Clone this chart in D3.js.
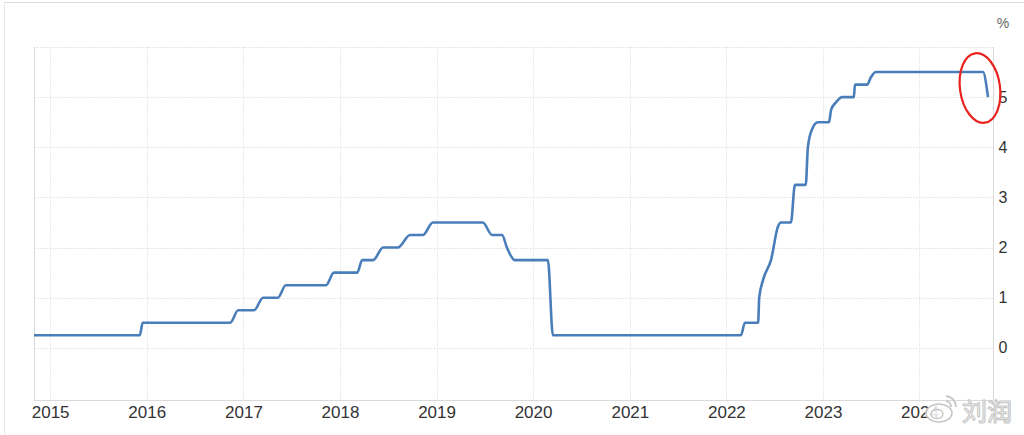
<!DOCTYPE html>
<html><head><meta charset="utf-8">
<script src="https://cdn.jsdelivr.net/npm/d3@7/dist/d3.min.js"></script>
<style>body{margin:0;background:#fff;}svg{display:block;font-family:"Liberation Sans",Arial,sans-serif;}</style>
</head><body>
<svg id="c" width="1024" height="435"></svg>
<script>
const dates = ["2014-11-01","2015-12-06","2015-12-17","2016-11-12","2016-12-12","2017-02-10","2017-03-16","2017-05-11","2017-06-10","2017-11-09","2017-12-09","2018-03-07","2018-03-26","2018-05-06","2018-06-13","2018-08-08","2018-09-23","2018-11-10","2018-12-18","2019-06-25","2019-07-30","2019-09-06","2019-09-24","2019-10-24","2020-02-26","2020-03-16","2022-02-25","2022-03-12","2022-05-01","2022-05-05","2022-05-20","2022-06-19","2022-07-15","2022-07-26","2022-09-02","2022-09-17","2022-10-28","2022-11-05","2022-11-20","2022-12-13","2023-01-24","2023-02-01","2023-02-20","2023-03-14","2023-04-28","2023-05-02","2023-06-17","2023-07-02","2023-07-20","2024-08-28","2024-09-16"];
const rates = [0.25,0.25,0.5,0.5,0.75,0.75,1.0,1.0,1.25,1.25,1.5,1.5,1.75,1.75,2.0,2.0,2.25,2.25,2.5,2.5,2.25,2.25,2.0,1.75,1.75,0.25,0.25,0.5,0.5,1.0,1.36,1.76,2.42,2.5,2.5,3.25,3.25,4.0,4.35,4.5,4.5,4.75,4.9,5.0,5.0,5.25,5.25,5.4,5.5,5.5,5.0];
const yearTicks = [2015,2016,2017,2018,2019,2020,2021,2022,2023,2024];
const yTicks = [0,1,2,3,4,5];
const yUnit = "%";
const watermark = "刘润";

const parse = d3.timeParse("%Y-%m-%d");
const data = dates.map((d,i)=>({date:parse(d), v:rates[i]}));
const svg = d3.select("#c");
const L=34, R=993, T=47, B=400;
const x = d3.scaleTime().domain([parse("2014-11-01"), parse("2024-10-05")]).range([L,R]);
const y = d3.scaleLinear().domain([-1.04, 6]).range([B,T]);

// outer screenshot frame
svg.append("line").attr("x1",4).attr("x2",1024).attr("y1",2.5).attr("y2",2.5).attr("stroke","#dcdcdc");
svg.append("line").attr("x1",4.5).attr("x2",4.5).attr("y1",2).attr("y2",435).attr("stroke","#e8e8e8");

// gridlines
const grid = svg.append("g");
grid.selectAll("line.h").data([0,1,2,3,4,5,6]).join("line")
  .attr("x1",L).attr("x2",R).attr("y1",d=>Math.round(y(d))+0.5).attr("y2",d=>Math.round(y(d))+0.5)
  .attr("stroke","#e8e8e8").attr("stroke-dasharray","2,1");
grid.selectAll("line.v").data(yearTicks).join("line")
  .attr("x1",d=>Math.round(x(new Date(d,0,1)))+0.5).attr("x2",d=>Math.round(x(new Date(d,0,1)))+0.5)
  .attr("y1",T).attr("y2",B).attr("stroke","#eaeaea").attr("stroke-dasharray","2,1");

// frame
svg.append("line").attr("x1",L+0.5).attr("x2",L+0.5).attr("y1",T).attr("y2",B).attr("stroke","#dadada");
svg.append("line").attr("x1",R+0.5).attr("x2",R+0.5).attr("y1",T).attr("y2",B).attr("stroke","#dadada");
svg.append("line").attr("x1",L).attr("x2",R).attr("y1",B+0.5).attr("y2",B+0.5).attr("stroke","#dadada");

// x axis labels
const xAxis = d3.axisBottom(x).tickValues(yearTicks.map(d=>new Date(d,0,1))).tickFormat(d3.timeFormat("%Y")).tickSize(0).tickPadding(0);
const gx = svg.append("g").attr("transform",`translate(0,${B})`).call(xAxis);
gx.select(".domain").remove();
gx.selectAll("text").attr("font-size",17).attr("fill","#333").attr("dy",null).attr("y",18);

// y axis labels
const yAxis = d3.axisRight(y).tickValues(yTicks).tickFormat(d3.format("d")).tickSize(0).tickPadding(0);
const gy = svg.append("g").attr("transform",`translate(1003,0)`).call(yAxis);
gy.select(".domain").remove();
gy.selectAll("text").attr("font-size",16).attr("fill","#333").attr("text-anchor","middle").attr("x",0);
svg.append("text").attr("x",1003).attr("y",28).attr("text-anchor","middle").attr("font-size",14).attr("fill","#666").text(yUnit);

// line
const line = d3.line().x(d=>x(d.date)).y(d=>y(d.v)).curve(d3.curveMonotoneX);
svg.append("path").datum(data).attr("d",line).attr("fill","none").attr("stroke","#4a7ebb").attr("stroke-width",2.6).attr("stroke-linejoin","round");

// red annotation ellipse
svg.append("ellipse").attr("class","anno").attr("cx",980).attr("cy",88).attr("rx",20).attr("ry",35)
  .attr("fill","none").attr("stroke","#e8231f").attr("stroke-width",2.2)
  .attr("transform","rotate(-8,980,88)");

// watermark
const wm = svg.append("g");
wm.append("ellipse").attr("cx",939).attr("cy",413).attr("rx",13).attr("ry",9)
  .attr("fill","#fff").attr("fill-opacity",0.85).attr("stroke","#c4c4c4").attr("stroke-width",1.5);
wm.append("ellipse").attr("cx",937).attr("cy",414).attr("rx",6).attr("ry",4.5).attr("fill","none").attr("stroke","#c4c4c4").attr("stroke-width",1.3);
wm.append("path").attr("d","M946,396 a11,11 0 0 1 10,11 M946,401 a5.5,5.5 0 0 1 5,6").attr("fill","none").attr("stroke","#c8c8c8").attr("stroke-width",1.8);
wm.append("text").attr("x",962).attr("y",421).attr("font-family","Noto Sans CJK SC").attr("font-size",25)
  .attr("fill","#fff").attr("stroke","#c6c6c6").attr("stroke-width",1.1).text(watermark);
</script>
</body></html>
